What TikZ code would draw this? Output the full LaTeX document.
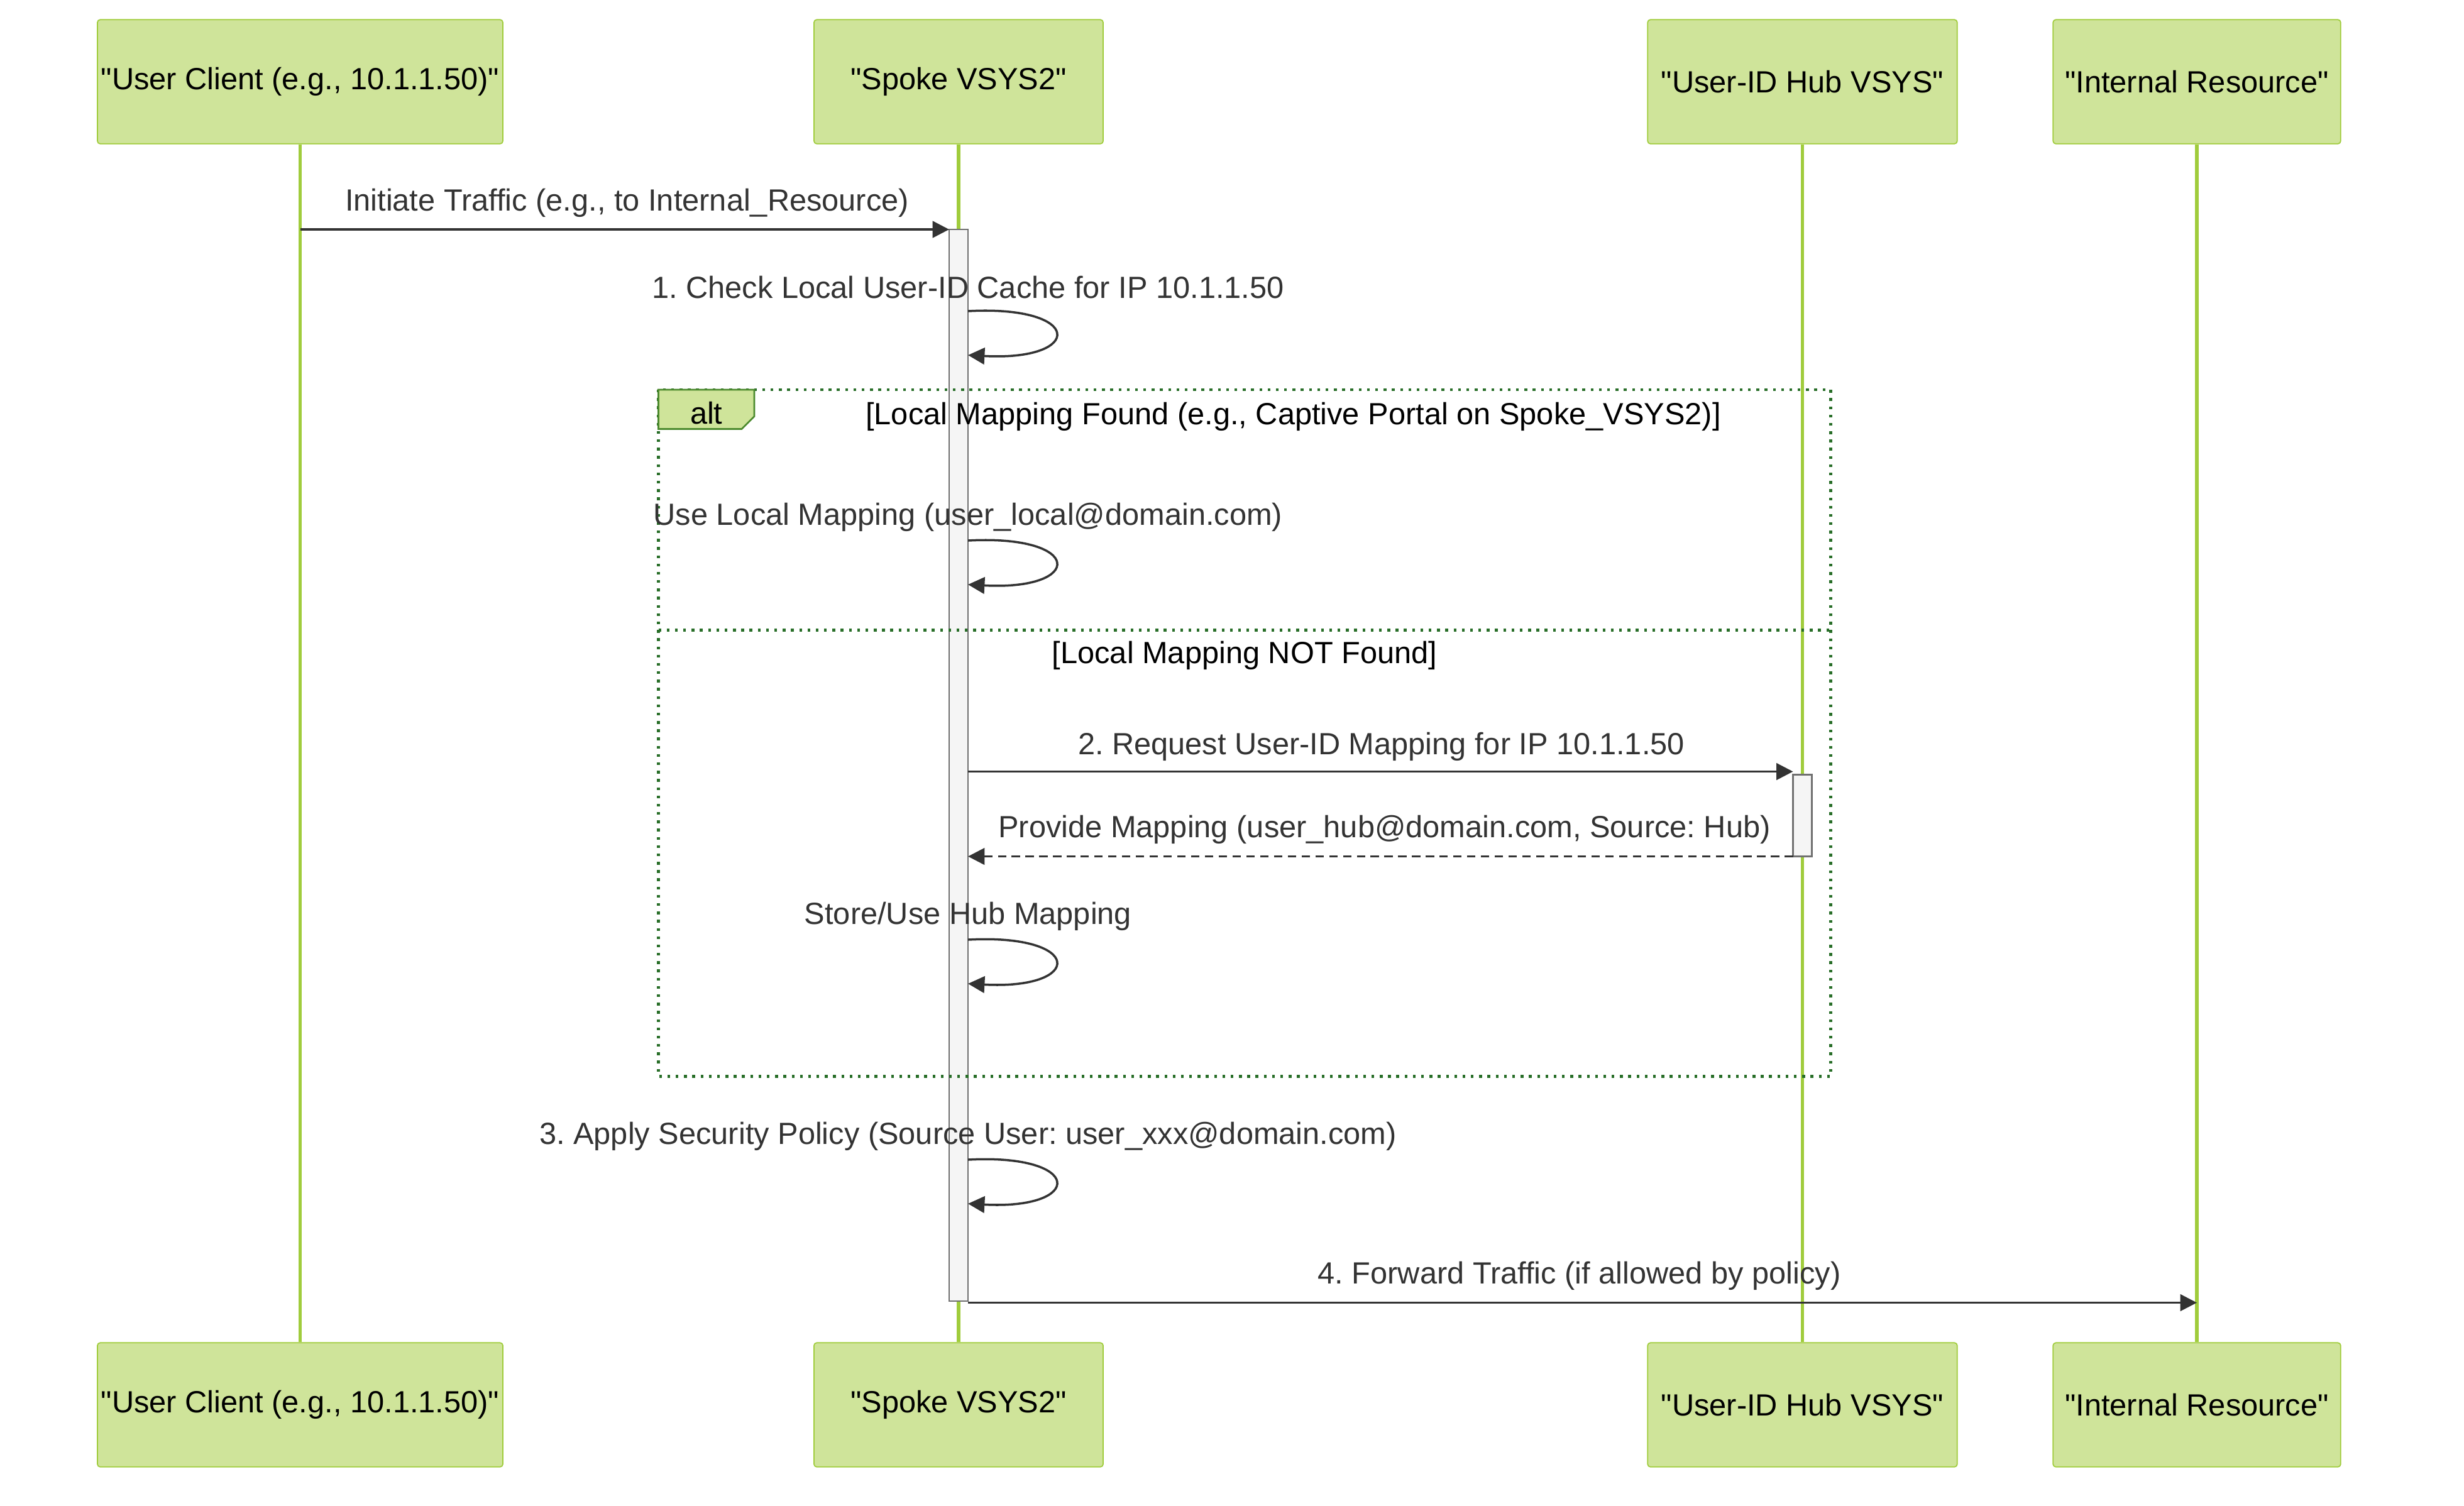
\documentclass[tikz,border=0pt]{standalone}
\usepackage{fontspec}
\setmainfont{Liberation Sans}[Ligatures=TeXOff]
\usetikzlibrary{arrows.meta,positioning,calc}
\definecolor{actorfill}{RGB}{207,228,154}
\definecolor{actorline}{RGB}{160,204,60}
\definecolor{altline}{RGB}{40,110,40}
\definecolor{msgline}{RGB}{51,51,51}
\frenchspacing

\begin{document}
\begin{tikzpicture}[x=0.02cm,y=-0.02cm,
    font=\fontsize{11.1}{13}\selectfont,
    actor/.style={rectangle, draw=actorline, fill=actorfill, rounded corners=1pt, minimum height=1.58cm, inner sep=0pt, align=center},
    life/.style={draw=actorline, line width=1.2pt},
    act/.style={draw=msgline!70, fill=black!4, line width=0.5pt},
    msg/.style={draw=msgline, line width=0.8pt, -{Triangle[length=6pt,width=6pt]}},
    reply/.style={msg, dash pattern=on 3pt off 2pt},
    lbl/.style={text=msgline, inner sep=0pt}
]
    \path[use as bounding box] (0,0) rectangle (1568,958);

    % actors
    \foreach \nm/\x/\w/\txt in {client/191/258/{"User Client (e.g., 10.1.1.50)"},
                                spoke/610/184/{"Spoke VSYS2"},
                                hub/1147/197/{"User-ID Hub VSYS"},
                                res/1398/183/{"Internal Resource"}} {
        \node[actor, minimum width=\w*0.02cm] (\nm top) at (\x,52) {\txt};
        \node[actor, minimum width=\w*0.02cm] (\nm bot) at (\x,894) {\txt};
        \draw[life] (\nm top) -- (\nm bot);
    }

    % activations
    \filldraw[act] (604,146) rectangle (616,828);
    \filldraw[act] (1141,493) rectangle (1153,545);

    % alt frame
    \draw[altline, line width=1pt, dotted] (419,248) rectangle (1165,685);
    \draw[altline, line width=1pt, dotted] (419,401) -- (1165,401);
    \filldraw[draw=altline!70!actorline, fill=actorfill, line width=0.6pt]
        (419,248) -- (480,248) -- (480,265) -- (472,273) -- (419,273) -- cycle;
    \node (alttag) at (449.5,263) {alt};
    \node (cond1) at (823,265) {[Local Mapping Found (e.g., Captive Portal on Spoke\_VSYS2)]};
    \node (cond2) at (792,417) {[Local Mapping NOT Found]};

    % message points
    \coordinate (c0) at (191,146);  \coordinate (s0) at (604,146);
    \coordinate (s2) at (616,491);  \coordinate (h2) at (1141,491);
    \coordinate (h3) at (1141,545); \coordinate (s3) at (616,545);
    \coordinate (s4) at (616,829);  \coordinate (r4) at (1398,829);

    \draw[msg] (c0) -- (s0);
    \node[lbl] (m0) at (399,129) {Initiate Traffic (e.g., to Internal\_Resource)};

    \foreach \y/\xl/\txt in {198/616/{1. Check Local User-ID Cache for IP 10.1.1.50},
                             344/616/{Use Local Mapping (user\_local@domain.com)},
                             598/616/{Store/Use Hub Mapping},
                             738/616/{3. Apply Security Policy (Source User: user\_xxx@domain.com)}} {
        \coordinate (a\y) at (616,\y);
        \coordinate (b\y) at (616,\y+28);
        \draw[msg] (a\y) .. controls (690,\y-4) and (690,\y+32) .. (b\y);
        \node[lbl] (t\y) at (\xl,\y-15) {\txt};
    }

    \draw[msg] (s2) -- (h2);
    \node[lbl] (m2) at (879,475) {2. Request User-ID Mapping for IP 10.1.1.50};
    \draw[reply] (h3) -- (s3);
    \node[lbl] (m3) at (881,528) {Provide Mapping (user\_hub@domain.com, Source: Hub)};
    \draw[msg] (s4) -- (r4);
    \node[lbl] (m4) at (1005,812) {4. Forward Traffic (if allowed by policy)};
\end{tikzpicture}
\end{document}
